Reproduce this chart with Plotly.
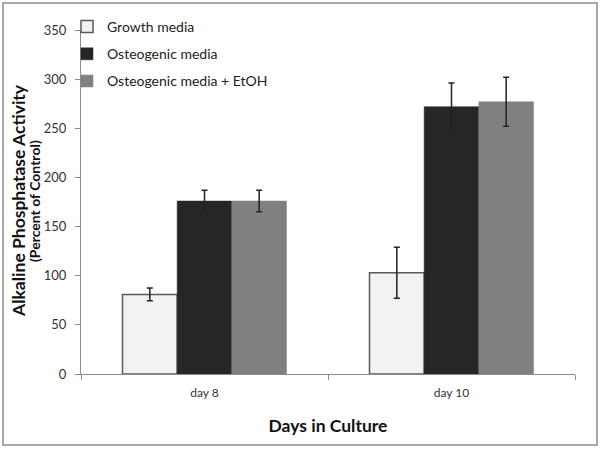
import plotly.graph_objects as go

categories = ["day 8", "day 10"]
series_names = ["Growth media", "Osteogenic media", "Osteogenic media + EtOH"]
growth = [81, 103]
growth_err = [6.5, 26]
osteo = [176, 272]
osteo_err = [11, 24]
etoh = [176, 277]
etoh_err = [11, 25]
y_ticks = [0, 50, 100, 150, 200, 250, 300, 350]

fills = ["#f2f2f2", "#262626", "#808080"]
lines = ["#5a5a5a", "#262626", "#808080"]
vals = [growth, osteo, etoh]
errs = [growth_err, osteo_err, etoh_err]

FONT = "Lato, 'Open Sans', sans-serif"

fig = go.Figure()
for i, name in enumerate(series_names):
    fig.add_trace(go.Bar(
        x=categories, y=vals[i], name=name, legendgroup=f"g{i}",
        marker=dict(color=fills[i], line=dict(color=lines[i], width=1.5 if i == 0 else 0.5)),
        error_y=dict(type="data", array=errs[i], color="#222222", thickness=1.5, width=3),
    ))

W, H = 601, 449
L, R, T, B = 81, 575, 30, 374
pw, ph = R - L, B - T

def px(xp):
    return (xp - L) / pw

def py(yp):
    return (B - yp) / ph

fig.update_layout(
    width=W, height=H,
    margin=dict(l=L, r=W - R, t=T, b=H - B, autoexpand=False),
    paper_bgcolor="white", plot_bgcolor="white",
    barmode="group", bargap=0.336, bargroupgap=0,
    font=dict(family=FONT, color="#333333", size=12),
    showlegend=True,
    legend=dict(x=px(67), y=py(11), xanchor="left", yanchor="top",
                font=dict(size=14, color="#222222", family=FONT),
                bgcolor="rgba(0,0,0,0)", tracegroupgap=6),
    xaxis=dict(showline=True, linecolor="#8c8c8c", linewidth=1, automargin=False,
               ticks="outside", ticklen=5, tickcolor="#8c8c8c",
               tickson="boundaries", showgrid=False, ticklabelstandoff=8,
               tickfont=dict(size=12, color="#333333"),
               title=dict(text="<b>Days in Culture</b>", font=dict(size=17.5, color="#111111"), standoff=20)),
    yaxis=dict(range=[0, 350], tickvals=y_ticks, showline=True, linecolor="#8c8c8c", linewidth=1,
               automargin=False, ticklabelstandoff=6,
               ticks="outside", ticklen=5, tickcolor="#8c8c8c", showgrid=False, zeroline=False,
               tickfont=dict(size=13, color="#333333")),
    annotations=[
        dict(text="<b>Alkaline Phosphatase Activity</b>", textangle=-90, xref="paper", yref="paper",
             x=px(18), y=py(201), xanchor="center", yanchor="middle", showarrow=False,
             font=dict(size=17.5, color="#111111", family=FONT)),
        dict(text="<b>(Percent of Control)</b>", textangle=-90, xref="paper", yref="paper",
             x=px(34), y=py(201), xanchor="center", yanchor="middle", showarrow=False,
             font=dict(size=14, color="#111111", family=FONT)),
    ],
    shapes=[dict(type="rect", xref="paper", yref="paper",
                 x0=px(3), x1=px(597), y0=py(445), y1=py(3),
                 line=dict(color="#8c8c8c", width=1.5), fillcolor="rgba(0,0,0,0)", layer="below")],
)

fig.write_html("out.html", config={"displayModeBar": False},
               post_script="document.body.style.margin='0px';")
